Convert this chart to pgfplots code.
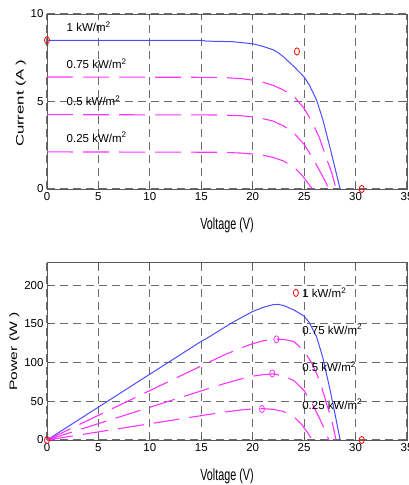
\documentclass[border=0pt]{standalone}
\usepackage{fontspec}
\setmainfont{Liberation Sans}
\usepackage{graphicx}
\usepackage{pgfplots}
\pgfplotsset{compat=1.18}

\definecolor{mblue}{rgb}{0.3,0.3,1}
\definecolor{mmag}{rgb}{1,0.2,1}
\definecolor{gridgray}{gray}{0.42}

\newcommand{\fs}{\fontsize{11.5bp}{13bp}\selectfont}
\newcommand{\lfs}{\fontsize{10.8bp}{12bp}\selectfont}

\pgfplotsset{
  matlab/.style={
    scale only axis, width=360bp,
    xmin=0, xmax=35, xtick={0,5,...,35},
    clip=false,
    axis line style={gray!70!black, line width=1bp},
    tick align=inside, major tick length=4bp,
    tick style={gray!70!black, line width=0.8bp},
    grid=major,
    major grid style={gridgray, line width=1.1bp, dash pattern=on 8bp off 5bp},
    /pgf/number format/assume math mode=true,
    tick label style={font=\fs},
    xlabel={\scalebox{1}[1.5]{\lfs Voltage (V)}},
  },
  pvdash/.style={mmag, line width=1.1bp, dash pattern=on 26bp off 10bp},
  pvsolid/.style={mblue, line width=1bp},
  redo/.style={only marks, mark=o, mark size=3.6bp, mark options={red, solid, xscale=0.7, line width=0.8bp}},
  mago/.style={only marks, mark=o, mark size=3.6bp, mark options={mmag, solid, xscale=0.7, line width=0.8bp}},
}

\begin{document}
\begin{tikzpicture}
% current vs voltage
\begin{axis}[matlab, at={(47bp,-189bp)}, anchor=south west,
    height=175bp, ymin=0, ymax=10, ytick={0,5,10},
    ylabel={\scalebox{1.55}[1]{\lfs Current (A )}},
    every axis y label/.style={at={(axis description cs:-0.073,0.49)}, rotate=90, anchor=center},
    every axis x label/.style={at={(axis description cs:0.5,-0.209)}, anchor=center},
]
\addplot[pvsolid] coordinates {
 (0,8.5) (15,8.5) (15.5,8.45) (18,8.42) (20,8.3) (21,8.15) (22,7.95) (22.5,7.78)
 (23,7.55) (24,7.0) (25,6.4) (25.5,5.95) (26.2,5.1) (26.8,4.0) (27.5,2.4) (28,1.2) (28.5,0)
};
\addplot[pvdash] coordinates {
 (0,6.4) (17,6.38) (19,6.3) (20,6.22) (21,6.1) (22,5.92) (23,5.65) (24,5.3)
 (25,4.6) (25.8,3.8) (26.5,2.9) (27.2,1.7) (27.7,0.9) (28.1,0)
};
\addplot[pvdash] coordinates {
 (0,4.25) (17,4.23) (19,4.18) (20,4.12) (21,4.02) (22,3.88) (23,3.6) (24,3.2)
 (25,2.55) (25.8,1.8) (26.5,1.05) (27,0.5) (27.4,0)
};
\addplot[pvdash] coordinates {
 (0,2.12) (17,2.1) (19,2.05) (20,2.0) (21,1.93) (22,1.8) (23,1.6) (24,1.25)
 (24.7,0.85) (25.3,0.4) (25.8,0)
};
\addplot[redo] coordinates {(0,8.5) (24.3,7.86) (30.6,0)};
\node[anchor=west, font=\fs, inner sep=0pt] at (axis cs:1.9,9.27) {1 kW/m\textsuperscript{2}};
\node[anchor=west, font=\fs, inner sep=0pt] at (axis cs:1.9,7.15) {0.75 kW/m\textsuperscript{2}};
\node[anchor=west, font=\fs, inner sep=0pt] at (axis cs:1.9,5.05) {0.5 kW/m\textsuperscript{2}};
\node[anchor=west, font=\fs, inner sep=0pt] at (axis cs:1.9,2.95) {0.25 kW/m\textsuperscript{2}};
\end{axis}

% power vs voltage
\begin{axis}[matlab, at={(47bp,-440bp)}, anchor=south west,
    height=177.3bp, ymin=0, ymax=229, ytick={0,50,...,200},
    ylabel={\scalebox{1.45}[1]{\lfs Power (W )}},
    every axis y label/.style={at={(axis description cs:-0.091,0.5)}, rotate=90, anchor=center},
    every axis x label/.style={at={(axis description cs:0.5,-0.206)}, anchor=center},
]
\addplot[pvsolid] coordinates {
 (0,0) (15,127.5) (15.5,131.0) (18,151.6) (20,166) (21,171.2) (22,174.9) (22.5,175.1)
 (23,173.7) (24,168) (25,160) (25.5,151.7) (26.2,133.6) (26.8,107.2) (27.5,66) (28,33.6) (28.5,0)
};
\addplot[pvdash] coordinates {
 (0,0) (17,108.5) (19,119.7) (20,124.4) (21,128.1) (22,130.2) (23,130) (24,127.2)
 (25,115) (25.8,98) (26.5,76.9) (27.2,46.2) (27.7,24.9) (28.1,0)
};
\addplot[pvdash] coordinates {
 (0,0) (17,71.9) (19,79.4) (20,82.4) (21,84.4) (22,85.4) (23,82.8) (24,76.8)
 (25,63.8) (25.8,46.4) (26.5,27.8) (27,13.5) (27.4,0)
};
\addplot[pvdash] coordinates {
 (0,0) (17,35.7) (19,39) (20,40) (21,40.5) (22,39.6) (23,36.8) (24,30)
 (24.7,21) (25.3,10.1) (25.8,0)
};
\addplot[redo] coordinates {(0,0) (24.2,190) (30.6,0)};
\addplot[mago] coordinates {(22.3,130) (21.9,86) (20.9,40)};
\node[anchor=west, font=\fs, inner sep=0pt] at (axis cs:24.8,190) {1 kW/m\textsuperscript{2}};
\node[anchor=west, font=\fs, inner sep=0pt] at (axis cs:24.8,143) {0.75 kW/m\textsuperscript{2}};
\node[anchor=west, font=\fs, inner sep=0pt] at (axis cs:24.8,95) {0.5 kW/m\textsuperscript{2}};
\node[anchor=west, font=\fs, inner sep=0pt] at (axis cs:24.8,46) {0.25 kW/m\textsuperscript{2}};
\end{axis}
\pgfresetboundingbox
\path[use as bounding box] (0,0) rectangle (409bp,-485bp);
\end{tikzpicture}
\end{document}
